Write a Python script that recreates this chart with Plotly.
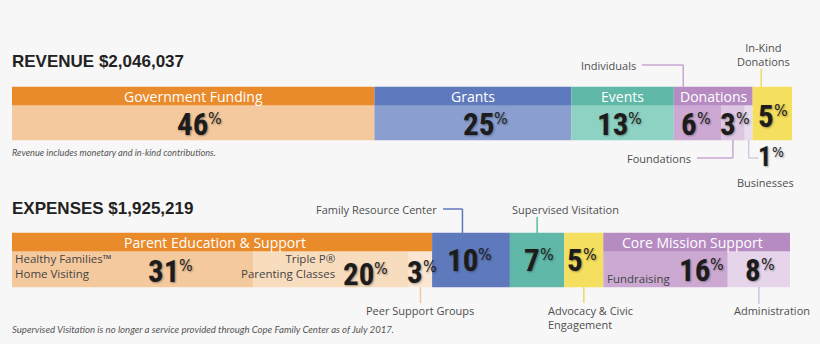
import plotly.graph_objects as go

# ---------------- data ----------------
rev_title = "REVENUE $2,046,037"
exp_title = "EXPENSES $1,925,219"
rev_note = "Revenue includes monetary and in-kind contributions."
exp_note = "Supervised Visitation is no longer a service provided through Cope Family Center as of July 2017."

rev_groups = ["Government Funding", "Grants", "Events", "Donations", "In-Kind Donations"]
rev_items = ["Government Funding", "Grants", "Events", "Individuals", "Foundations", "Businesses",
             "In-Kind<br>Donations"]
rev_item_group = [0, 1, 2, 3, 3, 3, 4]
rev_pct = [46, 25, 13, 6, 3, 1, 5]

exp_groups = ["Parent Education & Support", "Family Resource Center", "Supervised Visitation",
              "Advocacy & Civic Engagement", "Core Mission Support"]
exp_items = ["Healthy Families™<br>Home Visiting", "Triple P®<br>Parenting Classes", "Peer Support Groups",
             "Family Resource Center", "Supervised Visitation", "Advocacy & Civic<br>Engagement",
             "Fundraising", "Administration"]
exp_item_group = [0, 0, 0, 1, 2, 3, 4, 4]
exp_pct = [31, 20, 3, 10, 7, 5, 16, 8]

# ---------------- style / geometry ----------------
W, H = 820, 344
BG = "#F7F7F7"
REV_X0, REV_X1 = 12, 792
EXP_X0, EXP_X1 = 12, 790
REV_HEAD, REV_BODY = (87, 105), (105, 140)
EXP_HEAD, EXP_BODY = (233, 251), (251, 287)

rev_group_colors = ["#E98A2B", "#5F79BD", "#5FB8A8", "#B68BC1", "#F5DF5E"]
rev_item_colors = ["#F4C99E", "#8A9FCF", "#8ED2C3", "#CBA9D3", "#DCC6E2", "#E8DDEC", "#F5DF5E"]
rev_head_show = [1, 1, 1, 1, 0]
exp_group_colors = ["#E98A2B", "#5F79BD", "#5FB8A8", "#F5DF5E", "#B68BC1"]
exp_item_colors = ["#F4C99E", "#F8DCBE", "#FAE6D3", "#5F79BD", "#5FB8A8", "#F5DF5E", "#CBA9D3", "#E6D5EA"]
exp_head_show = [1, 0, 0, 0, 1]
exp_head_dx = [-7, 0, 0, 0, -4]

NUM_FONT = ("Roboto Condensed, Open Sans Condensed, Fira Sans Condensed, Ubuntu Condensed, "
            "Noto Sans Display ExtraCondensed, Noto Sans ExtraCondensed, Noto Sans Condensed, "
            "Liberation Sans Narrow, DejaVu Sans Condensed, sans-serif")
NUM_SIZE = 31
PCT_FONT = "Liberation Sans Narrow, DejaVu Sans Condensed, sans-serif"
LBL_FONT = "Open Sans, Lato, sans-serif"
TXT = "#1c1c1c"
GRAY = "#4f4f4f"
SHADOW = "1px 1px 2px rgba(0,0,0,0.35)"


def cum(vals):
    out, s = [], 0
    for v in vals:
        out.append(s)
        s += v
    return out


def group_sums(vals, gidx, n):
    sums = [0] * n
    for v, g in zip(vals, gidx):
        sums[g] += v
    return sums


rev_base = cum(rev_pct)
exp_base = cum(exp_pct)
rev_gsum = group_sums(rev_pct, rev_item_group, len(rev_groups))
exp_gsum = group_sums(exp_pct, exp_item_group, len(exp_groups))
rev_gbase = cum(rev_gsum)
exp_gbase = cum(exp_gsum)
REV_TOT = sum(rev_pct)
EXP_TOT = sum(exp_pct)


def rev_px2d(px):
    return (px - REV_X0) / (REV_X1 - REV_X0) * REV_TOT


def exp_px2d(px):
    return (px - EXP_X0) / (EXP_X1 - EXP_X0) * EXP_TOT


def band(vals, bases, colors, yr, xaxis):
    n = len(vals)
    return go.Bar(orientation="h", y=[(yr[0] + yr[1]) / 2] * n, x=vals, base=bases,
                  width=[yr[1] - yr[0] + 0.6] * n,
                  marker=dict(color=colors, line=dict(width=0)),
                  xaxis=xaxis, yaxis="y", hoverinfo="skip", showlegend=False)


fig = go.Figure()
fig.add_trace(band(rev_pct, rev_base, rev_item_colors, REV_BODY, "x"))
fig.add_trace(band(rev_gsum, rev_gbase, rev_group_colors, REV_HEAD, "x"))
fig.add_trace(band(exp_pct, exp_base, exp_item_colors, EXP_BODY, "x2"))
fig.add_trace(band(exp_gsum, exp_gbase, exp_group_colors, EXP_HEAD, "x2"))

ann = []
shapes = []


def A(text, x, y, xref="paper", size=11, color=GRAY, family=LBL_FONT, xanchor="center",
      yanchor="middle", xshift=0, weight="normal", style="normal", shadow=None, align=None):
    if xref == "paper":
        x = x / W
    f = dict(size=size, color=color, family=family, weight=weight, style=style)
    if shadow:
        f["shadow"] = shadow
    d = dict(text=text, x=x, y=y, xref=xref, yref="y", showarrow=False, font=f,
             xanchor=xanchor, yanchor=yanchor, xshift=xshift, borderpad=0, borderwidth=0)
    if align:
        d["align"] = align
    ann.append(d)


def L(x0, y0, x1, y1, color, xref):
    shapes.append(dict(type="line", x0=x0, y0=y0, x1=x1, y1=y1, xref=xref, yref="y",
                       line=dict(color=color, width=1.5)))


def number(val, x, y, xref, dx, size=NUM_SIZE):
    A(str(val), x, y, xref=xref, size=size, color=TXT, family=NUM_FONT, xanchor="right",
      xshift=dx, weight="bold", shadow=SHADOW)
    A("%", x, y - 6 * size / NUM_SIZE, xref=xref, size=16 * size / NUM_SIZE, color=TXT, family=PCT_FONT,
      xanchor="left", xshift=dx, shadow=SHADOW)


# titles & notes
A(rev_title, 12, 61, size=17, color="#222222", family="Liberation Sans, Arial, sans-serif",
  xanchor="left", weight="bold")
A(exp_title, 12, 208, size=17, color="#222222", family="Liberation Sans, Arial, sans-serif",
  xanchor="left", weight="bold")
A(rev_note, 12, 152, size=9.2, color="#555555", family="Lato, sans-serif", xanchor="left", style="italic")
A(exp_note, 12, 329, size=9.6, color="#555555", family="Lato, sans-serif", xanchor="left", style="italic")

# header labels
for i, g in enumerate(rev_groups):
    if rev_head_show[i]:
        A(g, rev_gbase[i] + rev_gsum[i] / 2, sum(REV_HEAD) / 2, xref="x", size=14, color="white")
for i, g in enumerate(exp_groups):
    if exp_head_show[i]:
        A(g, exp_gbase[i] + exp_gsum[i] / 2, sum(EXP_HEAD) / 2, xref="x2", size=14, color="white",
          xshift=exp_head_dx[i])

# revenue numbers
rev_num_dx = [15, 21, 5, 0, 3, 0, 2]
rev_num_y = [124, 124, 124, 124, 124, 157, 116]
for i, v in enumerate(rev_pct):
    c = rev_base[i] + v / 2
    if rev_items[i] == "Businesses":
        number(v, 772, rev_num_y[i], "paper", 0, size=27)
    else:
        number(v, c, rev_num_y[i], "x", rev_num_dx[i])

# expense numbers
exp_num_dx = [46, 43, 3, 7, 3, -1, 44, 2]
exp_num_y = [271, 274, 272, 260, 260, 260, 270, 270]
for i, v in enumerate(exp_pct):
    c = exp_base[i] + v / 2
    number(v, c, exp_num_y[i], "x2", exp_num_dx[i])

# revenue callouts
ri = {n: i for i, n in enumerate(rev_items)}
i = ri["Individuals"]
A(rev_items[i], 636, 65, xanchor="right")
xa = rev_base[i] + 1.2
L(rev_px2d(642), 65, xa, 65, "#C9A6D2", "x")
L(xa, 65, xa, REV_HEAD[0], "#C9A6D2", "x")

i = ri["In-Kind<br>Donations"]
A(rev_items[i], 763, 54)
xa = rev_base[i] + 1.1
L(xa, 69, xa, REV_HEAD[0], "#F0D860", "x")

i = ri["Foundations"]
A(rev_items[i], 691, 158, xanchor="right")
xa = rev_base[i] + rev_pct[i] / 2
L(rev_px2d(697), 158, xa, 158, "#C9A6D2", "x")
L(xa, 158, xa, REV_BODY[1], "#C9A6D2", "x")

i = ri["Businesses"]
A(rev_items[i], 765, 182)
xa = rev_base[i] + rev_pct[i] / 2
L(xa, REV_BODY[1], xa, 158, "#D8C8E0", "x")
L(xa, 158, rev_px2d(758), 158, "#D8C8E0", "x")

# expense callouts
ei = {n: i for i, n in enumerate(exp_items)}
i = ei["Family Resource Center"]
A(exp_items[i], 437, 209, xanchor="right")
xa = exp_base[i] + 3.9
L(exp_px2d(443), 209, xa, 209, "#5F79BD", "x2")
L(xa, 209, xa, EXP_HEAD[0], "#5F79BD", "x2")

i = ei["Supervised Visitation"]
A(exp_items[i], 565, 209)
xa = exp_base[i] + exp_pct[i] / 2
L(xa, 217, xa, EXP_HEAD[0], "#5FB8A8", "x2")

i = ei["Peer Support Groups"]
A(exp_items[i], 420, 310)
xa = exp_base[i] + exp_pct[i] / 2
L(xa, EXP_BODY[1], xa, 303, "#F4C99E", "x2")

i = ei["Advocacy & Civic<br>Engagement"]
A(exp_items[i], 548, 317, xanchor="left", align="left")
xa = exp_base[i] + exp_pct[i] / 2
L(xa, EXP_BODY[1], xa, 303, "#F0D860", "x2")

i = ei["Administration"]
A(exp_items[i], 772, 310)
xa = exp_base[i] + exp_pct[i] / 2
L(xa, EXP_BODY[1], xa, 304, "#D5C3DC", "x2")

# in-bar labels
A(exp_items[ei["Healthy Families™<br>Home Visiting"]], 15, 266, xanchor="left", align="left", size=11.5,
  color="#444444")
A(exp_items[ei["Triple P®<br>Parenting Classes"]], 335, 266, xanchor="right", align="right", size=11.5,
  color="#444444")
A(exp_items[ei["Fundraising"]], 607, 278, xanchor="left", size=11.5, color="#444444")

fig.update_layout(
    width=W, height=H, autosize=False,
    margin=dict(l=0, r=0, t=0, b=0, pad=0),
    paper_bgcolor=BG, plot_bgcolor="rgba(0,0,0,0)",
    barmode="overlay",
    xaxis=dict(domain=[REV_X0 / W, REV_X1 / W], range=[0, REV_TOT], visible=False, fixedrange=True),
    xaxis2=dict(domain=[EXP_X0 / W, EXP_X1 / W], range=[0, EXP_TOT], visible=False, fixedrange=True,
                anchor="y"),
    yaxis=dict(domain=[0, 1], range=[H, 0], visible=False, fixedrange=True),
    annotations=ann, shapes=shapes,
)

fig.write_html("out.html", config={"displayModeBar": False})
